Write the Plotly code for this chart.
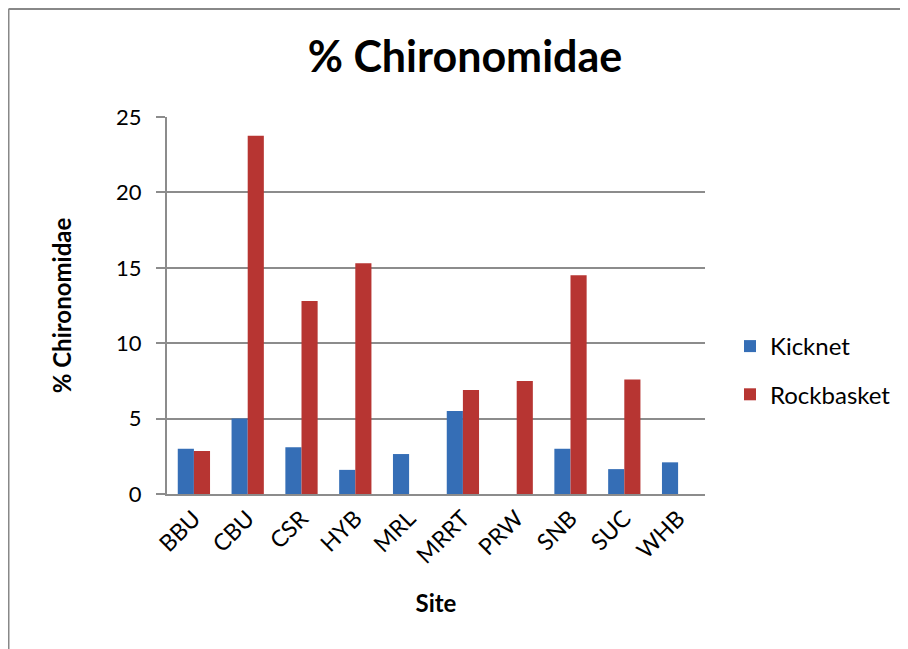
import plotly.graph_objects as go

sites = ["BBU", "CBU", "CSR", "HYB", "MRL", "MRRT", "PRW", "SNB", "SUC", "WHB"]
kicknet = [3.0, 5.0, 3.1, 1.6, 2.65, 5.5, None, 3.0, 1.65, 2.1]
rockbasket = [2.85, 23.75, 12.8, 15.3, None, 6.9, 7.5, 14.5, 7.6, None]
y_ticks = [0, 5, 10, 15, 20, 25]

FONT = "Lato, Open Sans, sans-serif"
GRID = "#8c8c8c"

fig = go.Figure()
fig.add_trace(go.Bar(name="Kicknet", x=sites, y=kicknet,
                     marker=dict(color="#356eb6", line=dict(width=0)),
                     legendgroup="k"))
fig.add_trace(go.Bar(name="Rockbasket", x=sites, y=rockbasket,
                     marker=dict(color="#b73532", line=dict(width=0)),
                     legendgroup="r"))

OFF = 8  # page body margin
W, H = 900, 641
L, T = 167 - OFF, 117 - OFF
R = W - (705 - OFF)
B = H - (494 - OFF)
pw, ph = W - L - R, H - T - B


def px(x):
    # x given in screen pixels of the reference
    return (x - OFF - L) / pw


def py(y):
    return (H - B - (y - OFF)) / ph


border = dict(color="#888888", width=2)

fig.update_layout(
    width=W, height=H,
    margin=dict(l=L, r=R, t=T, b=B),
    paper_bgcolor="white", plot_bgcolor="white",
    barmode="group", bargap=0.4, bargroupgap=0,
    font=dict(family=FONT, color="black", size=22),
    title=dict(text="<b>% Chironomidae</b>", x=(465 - OFF) / W, xanchor="center",
               y=1 - (57 - OFF) / H, yanchor="middle",
               font=dict(size=43, family=FONT)),
    xaxis=dict(title=dict(text="<b>Site</b>", font=dict(size=24), standoff=28),
               tickangle=-45, tickfont=dict(size=23),
               showline=True, linecolor=GRID, linewidth=2,
               ticks="", showgrid=False),
    yaxis=dict(title=dict(text="<b>% Chironomidae</b>", font=dict(size=24), standoff=38),
               range=[0, 25], tickvals=y_ticks, tickfont=dict(size=22),
               showgrid=True, gridcolor=GRID, gridwidth=2,
               showline=True, linecolor=GRID, linewidth=2,
               ticks="outside", ticklen=9, tickcolor=GRID, tickwidth=2,
               ticklabelstandoff=10, zeroline=False),
    legend=dict(x=px(730), xanchor="left", y=py(324), yanchor="top",
                font=dict(size=24), traceorder="grouped", tracegroupgap=14,
                bgcolor="rgba(0,0,0,0)"),
    shapes=[
        dict(type="line", xref="paper", yref="paper",
             x0=px(8.5), x1=px(908), y0=py(9), y1=py(9), line=border),
        dict(type="line", xref="paper", yref="paper",
             x0=px(8.5), x1=px(8.5), y0=py(9), y1=py(649), line=border),
    ],
)

fig.write_html("out.html")
